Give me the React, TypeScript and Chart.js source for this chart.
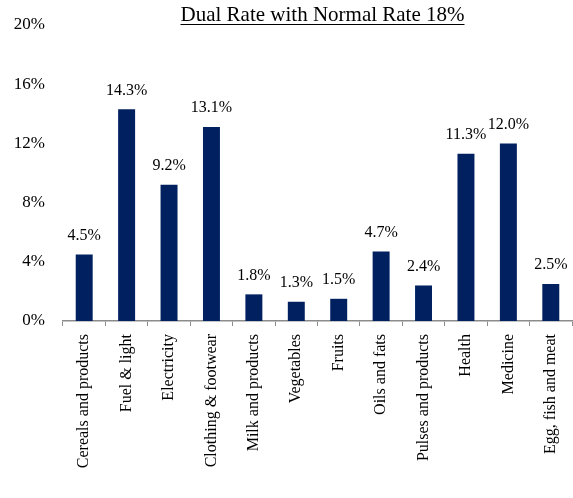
import React, { useEffect, useRef } from "react";
import { Chart, registerables } from "chart.js";

Chart.register(...registerables);

const TITLE = "Dual Rate with Normal Rate 18%";
const categories = [
  "Cereals and products",
  "Fuel & light",
  "Electricity",
  "Clothing & footwear",
  "Milk and products",
  "Vegetables",
  "Fruits",
  "Oils and fats",
  "Pulses and products",
  "Health",
  "Medicine",
  "Egg, fish and meat",
];
const values = [4.5, 14.3, 9.2, 13.1, 1.8, 1.3, 1.5, 4.7, 2.4, 11.3, 12.0, 2.5];
const yTicks = [0, 4, 8, 12, 16, 20];

const FONT = "'Liberation Serif', 'Times New Roman', serif";
const BAR_COLOR = "#002060";

const labelPlugin = {
  id: "labelsAndTitle",
  afterDatasetsDraw(chart: any) {
    const ctx = chart.ctx;
    const meta = chart.getDatasetMeta(0);
    ctx.save();
    ctx.fillStyle = "#000";
    ctx.font = `16px ${FONT}`;
    ctx.textAlign = "center";
    ctx.textBaseline = "middle";
    meta.data.forEach((bar: any, i: number) => {
      ctx.fillText(values[i].toFixed(1) + "%", bar.x, bar.y - 19);
    });
    // title
    const area = chart.chartArea;
    const cx = (area.left + area.right) / 2 + 5;
    ctx.font = `21px ${FONT}`;
    ctx.textBaseline = "alphabetic";
    const w = ctx.measureText(TITLE).width;
    const by = 21;
    ctx.fillText(TITLE, cx, by);
    ctx.strokeStyle = "#000";
    ctx.lineWidth = 1;
    ctx.beginPath();
    ctx.moveTo(cx - w / 2, by + 3.5);
    ctx.lineTo(cx + w / 2, by + 3.5);
    ctx.stroke();
    ctx.restore();
  },
};

export default function App() {
  const ref = useRef<HTMLCanvasElement>(null);
  useEffect(() => {
    if (!ref.current) return;
    const chart = new Chart(ref.current, {
      type: "bar",
      data: {
        labels: categories,
        datasets: [
          {
            data: values,
            backgroundColor: BAR_COLOR,
            borderWidth: 0,
            categoryPercentage: 1,
            barPercentage: 0.4,
          },
        ],
      },
      options: {
        animation: false,
        responsive: false,
        maintainAspectRatio: false,
        layout: { padding: { top: 25, right: 1, left: 0, bottom: 0 } },
        plugins: {
          legend: { display: false },
          tooltip: { enabled: false },
          title: { display: false },
        },
        scales: {
          x: {
            grid: {
              display: true,
              offset: true,
              drawOnChartArea: false,
              drawTicks: true,
              tickLength: 5,
              color: "#8c8c8c",
            },
            border: { display: true, color: "#8c8c8c", width: 1.5 },
            ticks: {
              color: "#000",
              font: { family: FONT, size: 16 },
              maxRotation: 90,
              minRotation: 90,
              padding: 8,
              autoSkip: false,
            },
            afterFit(scale: any) {
              scale.height = 177;
              scale.paddingLeft = 0;
              scale.paddingRight = 0;
            },
          },
          y: {
            min: 0,
            max: 20,
            afterBuildTicks(scale: any) {
              scale.ticks = yTicks.map((v) => ({ value: v }));
            },
            grid: { display: false, drawTicks: false },
            border: { display: false },
            ticks: {
              color: "#000",
              font: { family: FONT, size: 17 },
              padding: 18,
              callback: (v: any) => v + "%",
            },
            afterFit(scale: any) {
              scale.width = 63;
              scale.paddingTop = 0;
              scale.paddingBottom = 0;
            },
          },
        },
      },
      plugins: [labelPlugin],
    });
    return () => chart.destroy();
  }, []);
  return (
    <div style={{ position: "fixed", left: 0, top: 0, width: 573, height: 498, background: "#fff" }}>
      <canvas ref={ref} width={573} height={498} style={{ width: 573, height: 498 }} />
    </div>
  );
}
